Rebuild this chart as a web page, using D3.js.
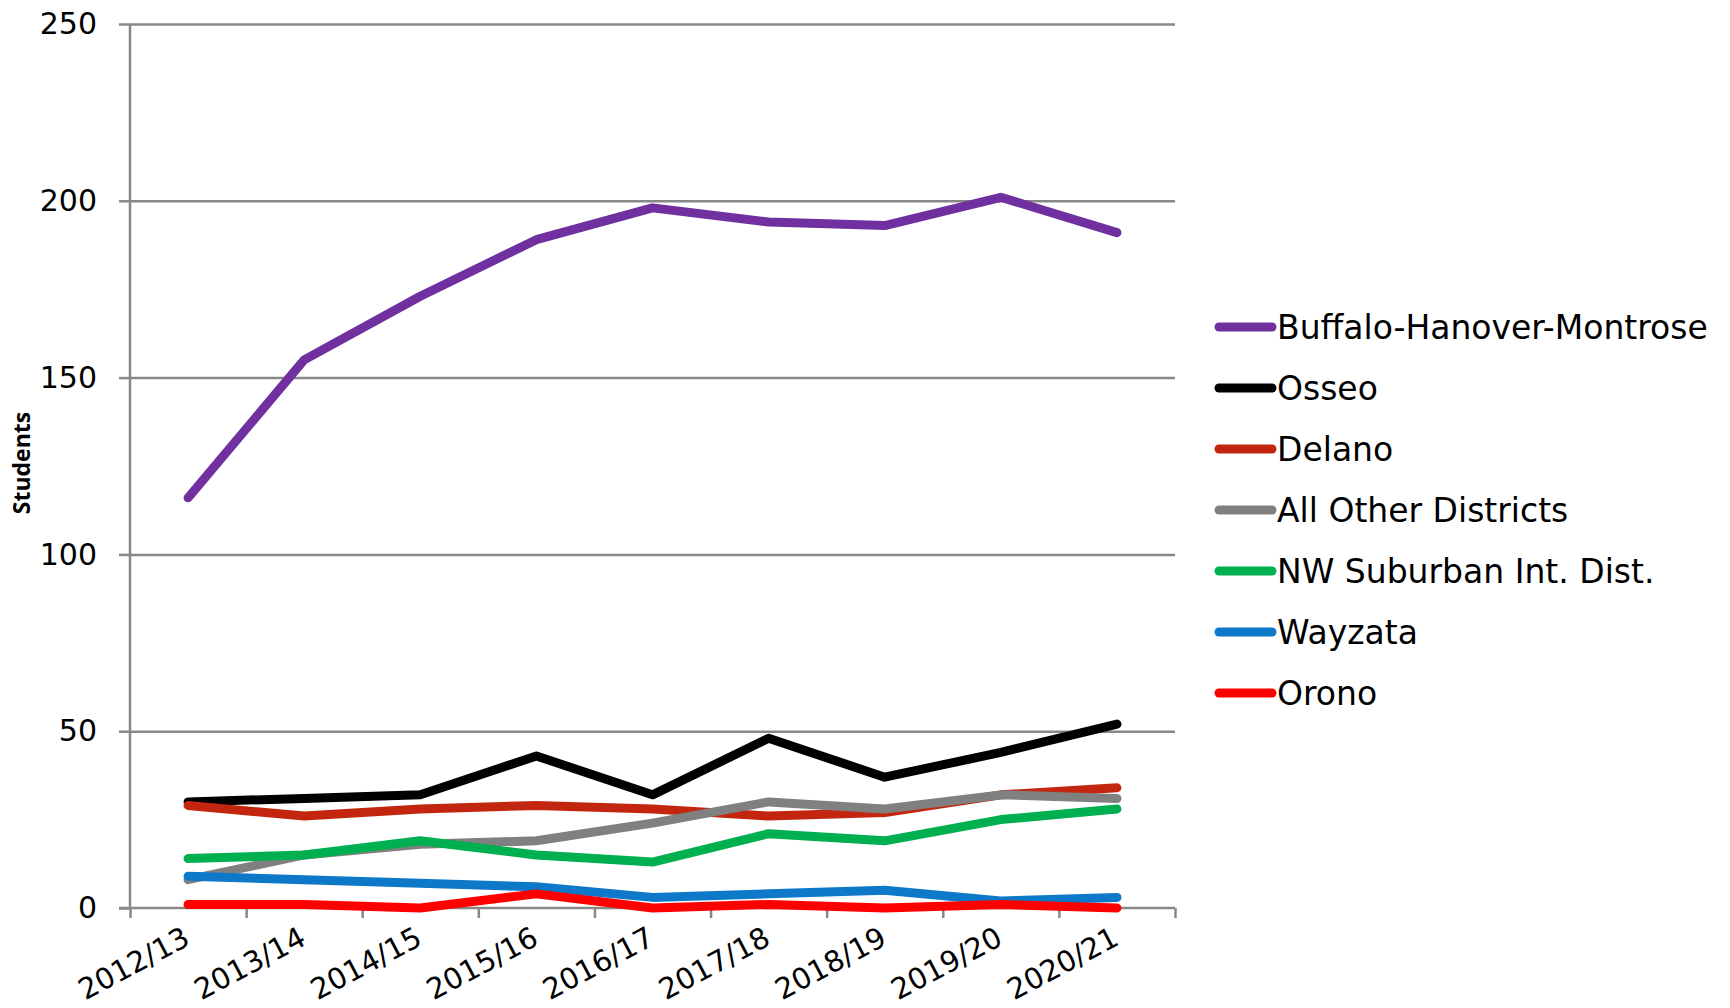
<!DOCTYPE html>
<html>
<head>
<meta charset="utf-8">
<script src="https://cdn.jsdelivr.net/npm/d3@7"></script>
<style>
  body { margin: 0; background: #fff; }
  text { font-family: "DejaVu Sans", sans-serif; fill: #000; }
</style>
</head>
<body>
<svg id="chart"></svg>
<script>
// school years on the x axis
var years = ['2012/13', '2013/14', '2014/15', '2015/16', '2016/17', '2017/18', '2018/19', '2019/20', '2020/21'];

var districts = ['Buffalo-Hanover-Montrose', 'Osseo', 'Delano', 'All Other Districts',
    'NW Suburban Int. Dist.', 'Wayzata', 'Orono'];

var colors = ['#7030a0', '#000000', '#c3260f', '#808080', '#00b050', '#0e78c9', '#ff0000'];

// students per district, same order as years
var buffalo = [116, 155, 173, 189, 198, 194, 193, 201, 191];
var osseo = [30, 31, 32, 43, 32, 48, 37, 44, 52];
var delano = [29, 26, 28, 29, 28, 26, 27, 32, 34];
var allOther = [8, 15, 18, 19, 24, 30, 28, 32, 31];
var nwSuburban = [14, 15, 19, 15, 13, 21, 19, 25, 28];
var wayzata = [9, 8, 7, 6, 3, 4, 5, 2, 3];
var orono = [1, 1, 0, 4, 0, 1, 0, 1, 0];

var yTicks = [0, 50, 100, 150, 200, 250];

var series = [buffalo, osseo, delano, allOther, nwSuburban, wayzata, orono];

var width = 1730,
    height = 1008,
    plotLeft = 130,
    plotRight = 1175,
    plotTop = 24,
    plotBottom = 908,
    gridColor = '#888888';

var svg = d3.select('#chart')
    .attr('width', width)
    .attr('height', height);

var x = d3.scalePoint()
    .domain(years)
    .range([plotLeft, plotRight])
    .padding(0.5);

// tick marks sit between categories
var xEdge = d3.scaleLinear()
    .domain([0, years.length])
    .range([plotLeft, plotRight]);

var y = d3.scaleLinear()
    .domain([0, 250])
    .range([plotBottom, plotTop]);

// gridlines
svg.append('g')
    .attr('transform', 'translate(' + plotLeft + ',0)')
    .call(d3.axisLeft(y).tickValues(yTicks.slice(1)).tickSize(-(plotRight - plotLeft)).tickFormat(''))
    .call(g => g.select('.domain').remove())
    .selectAll('line')
    .attr('stroke', gridColor)
    .attr('stroke-width', 2.5);

// y axis
var yAxis = svg.append('g')
    .attr('transform', 'translate(' + plotLeft + ',0)')
    .call(d3.axisLeft(y).tickValues(yTicks).tickSize(11).tickPadding(22));
yAxis.select('.domain')
    .attr('d', 'M0,' + plotTop + 'V' + plotBottom)
    .attr('stroke', gridColor)
    .attr('stroke-width', 2.5);
yAxis.selectAll('line').attr('stroke', gridColor).attr('stroke-width', 2.5);
yAxis.selectAll('text')
    .style('font-size', '30px')
    .style('font-family', '"DejaVu Sans", sans-serif')
    .attr('fill', '#000');

// x axis line + ticks
var xAxis = svg.append('g')
    .attr('transform', 'translate(0,' + plotBottom + ')')
    .call(d3.axisBottom(xEdge).tickValues(d3.range(years.length + 1)).tickSize(10).tickFormat(''));
xAxis.select('.domain')
    .attr('d', 'M' + (plotLeft - 11) + ',0H' + plotRight)
    .attr('stroke', gridColor)
    .attr('stroke-width', 2.5);
xAxis.selectAll('line').attr('stroke', gridColor).attr('stroke-width', 2.5);

// x labels, rotated
svg.append('g')
    .selectAll('text')
    .data(years)
    .enter().append('text')
    .attr('transform', function(d) {
        return 'translate(' + (x(d) - 6) + ',' + (plotBottom + 18) + ') rotate(-28)';
    })
    .attr('text-anchor', 'end')
    .attr('dy', '0.7em')
    .style('font-size', '29px')
    .text(function(d) { return d; });

// y label
svg.append('text')
    .attr('transform', 'translate(30,463) rotate(-90)')
    .attr('text-anchor', 'middle')
    .style('font-family', '"Open Sans", sans-serif')
    .style('font-weight', 'bold')
    .style('font-size', '23px')
    .text('Students');

// lines
var line = d3.line()
    .x(function(d, i) { return x(years[i]); })
    .y(function(d) { return y(d); });

svg.append('g')
    .selectAll('path')
    .data(series)
    .enter().append('path')
    .attr('d', line)
    .attr('fill', 'none')
    .attr('stroke', function(d, i) { return colors[i]; })
    .attr('stroke-width', 9)
    .attr('stroke-linejoin', 'round')
    .attr('stroke-linecap', 'round');

// legend
var legend = svg.append('g')
    .selectAll('g')
    .data(districts)
    .enter().append('g')
    .attr('transform', function(d, i) {
        return 'translate(1219,' + (327 + i * 61) + ')';
    });

legend.append('line')
    .attr('x1', 0)
    .attr('x2', 53)
    .attr('stroke', function(d, i) { return colors[i]; })
    .attr('stroke-width', 9)
    .attr('stroke-linecap', 'round');

legend.append('text')
    .attr('x', 58)
    .attr('dy', '0.36em')
    .style('font-size', '33px')
    .text(function(d) { return d; });
</script>
</body>
</html>
